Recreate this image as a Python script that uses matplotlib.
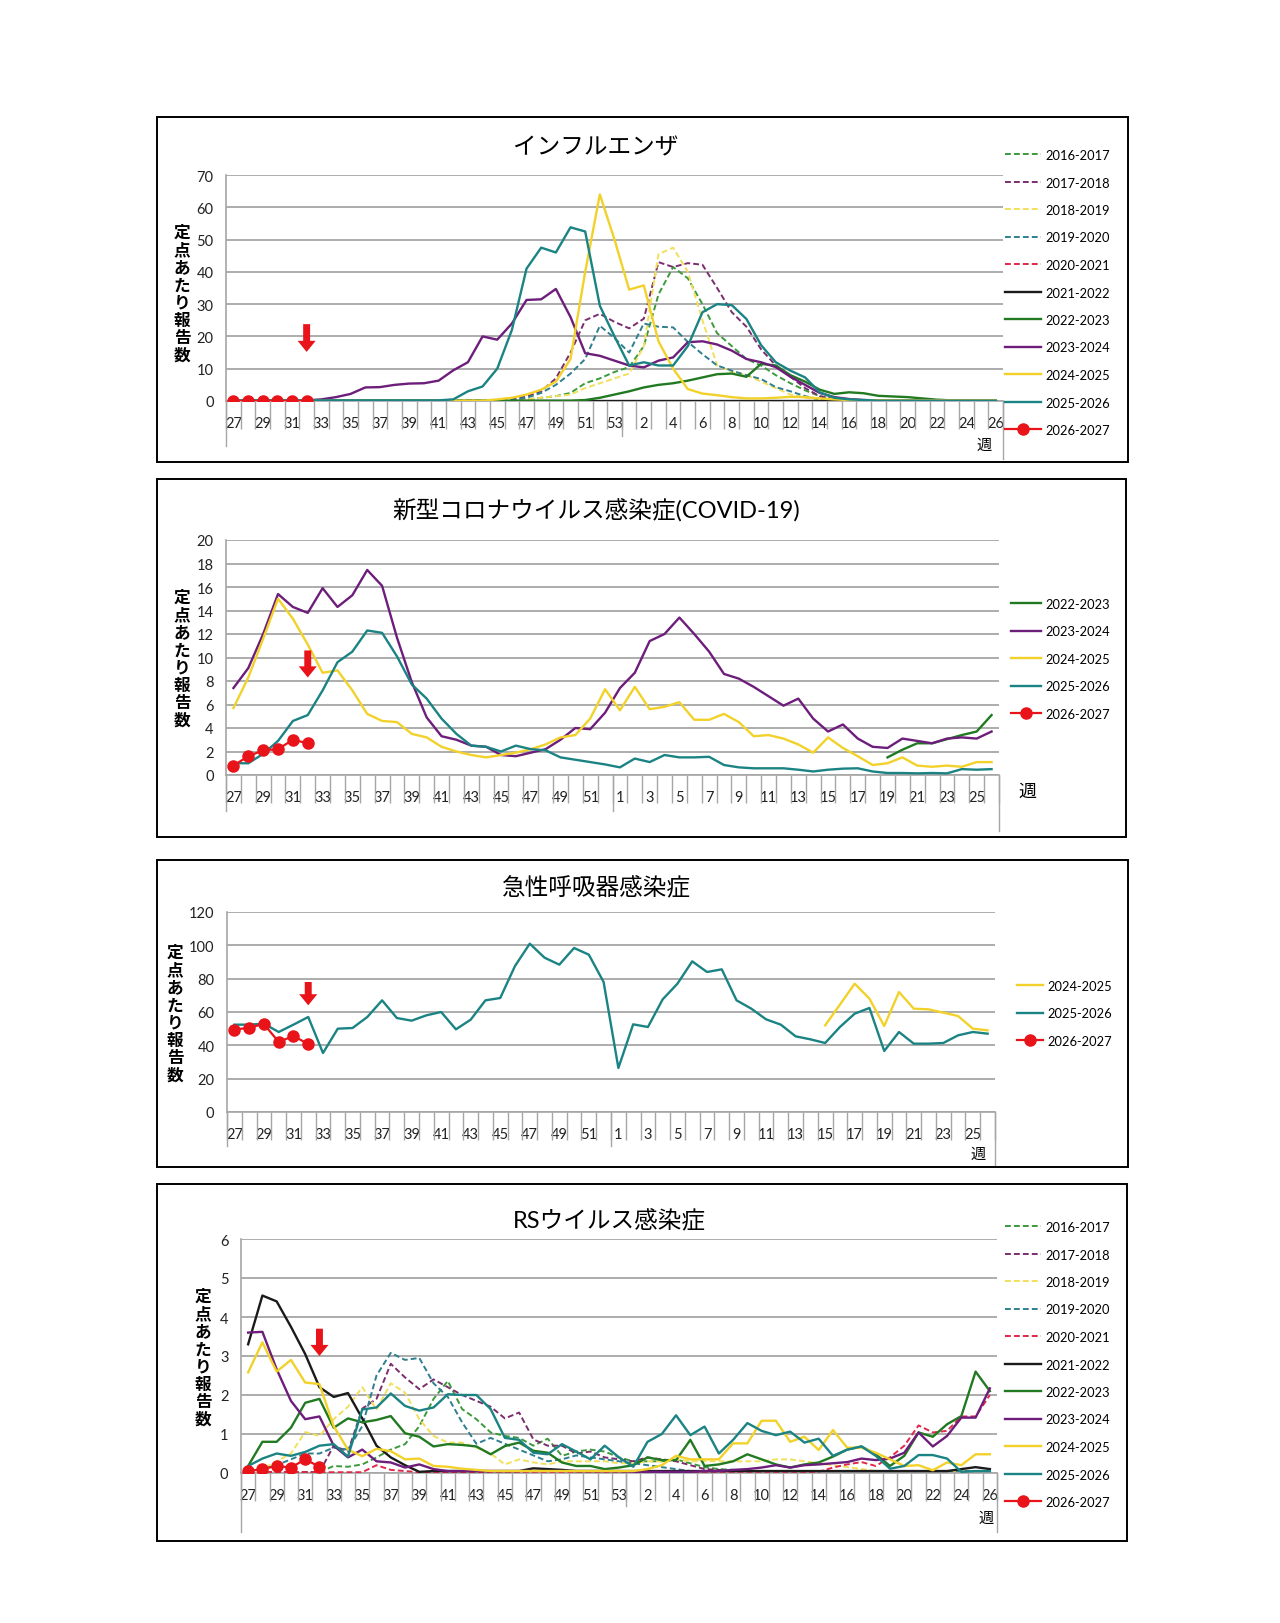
import numpy as np
import matplotlib
matplotlib.use("Agg")
import matplotlib.pyplot as plt
from matplotlib.lines import Line2D
from matplotlib.patches import Rectangle

plt.rcParams['font.family'] = ['Lato', 'Noto Sans CJK JP', 'DejaVu Sans']

# week axes
weeks_a = list(range(27, 54)) + list(range(1, 27))   # 53 weeks
weeks_b = list(range(27, 53)) + list(range(1, 27))   # 52 weeks

N = None

# ---------------- インフルエンザ ----------------
flu_1617 = [0.1, 0.1, 0.1, 0.1, 0.1, 0.1, 0.1, 0.1, 0.1, 0.1, 0.1, 0.1, 0.1, 0.1, 0.1, 0.1, 0.1, 0.1, 0.1,
            0.2, 0.5, 1.0, 1.5, 2.5, 5.5, 7.0, 9.0,
            10.5, 17.0, 33.0, 41.5, 38.0, 30.0, 21.0, 17.0, 13.0, 11.0, 8.0, 5.5, 3.3, 1.5, 0.6, 0.3, 0.2,
            0.1, 0.1, 0.1, 0.1, 0.1, 0.1, 0.1, 0.1, 0.1]
flu_1718 = [0.1, 0.1, 0.1, 0.1, 0.1, 0.1, 0.1, 0.1, 0.1, 0.1, 0.1, 0.1, 0.1, 0.1, 0.1, 0.1, 0.1, 0.1, 0.1,
            0.5, 1.5, 3.0, 7.0, 15.0, 25.0, 27.0, 24.5,
            22.5, 25.5, 43.0, 41.5, 42.7, 42.2, 35.0, 27.5, 23.0, 16.0, 11.0, 7.5, 4.0, 1.5, 0.5, 0.3, 0.2,
            0.1, 0.1, 0.1, 0.1, 0.1, 0.1, 0.1, 0.1, 0.1]
flu_1819 = [0.1, 0.1, 0.1, 0.1, 0.1, 0.1, 0.1, 0.1, 0.1, 0.1, 0.1, 0.1, 0.1, 0.1, 0.1, 0.1, 0.1, 0.1, 0.1, 0.1,
            0.5, 1.0, 1.5, 2.0, 4.0, 5.5, 7.0,
            8.5, 17.0, 45.5, 47.5, 40.0, 25.0, 11.0, 9.0, 8.0, 6.0, 4.0, 2.0, 1.0, 0.5, 0.3, 0.2,
            0.1, 0.1, 0.1, 0.1, 0.1, 0.1, 0.1, 0.1, 0.1, 0.1]
flu_1920 = [0.1, 0.1, 0.1, 0.1, 0.1, 0.1, 0.1, 0.1, 0.1, 0.1, 0.1, 0.1, 0.1, 0.1, 0.1, 0.1, 0.1, 0.1, 0.1,
            0.3, 1.0, 2.5, 5.0, 8.5, 13.0, 23.3, 19.5,
            15.0, 24.0, 23.0, 22.8, 18.3, 14.5, 11.0, 9.4, 8.0, 6.8, 4.3, 3.0, 1.5, 0.5, 0.2,
            0.1, 0.1, 0.1, 0.1, 0.1, 0.1, 0.1, 0.1, 0.1, 0.1, 0.1]
flu_2021 = [0.05, 0.05, 0.05, 0.05, 0.05, 0.05, 0.05, 0.05, 0.05, 0.05, 0.05, 0.05, 0.05, 0.05, 0.05, 0.05,
            0.05, 0.05, 0.05, 0.05, 0.05, 0.05, 0.05, 0.05, 0.05, 0.05, 0.05,
            0.05, 0.05, 0.05, 0.05, 0.05, 0.05, 0.05, 0.05, 0.05, 0.05, 0.05, 0.05, 0.05, 0.05, 0.05,
            0.05, 0.05, 0.05, 0.05, 0.05, 0.05, 0.05, 0.05, 0.05, 0.05, 0.05]
flu_2122 = [0.05, 0.05, 0.05, 0.05, 0.05, 0.05, 0.05, 0.05, 0.05, 0.05, 0.05, 0.05, 0.05, 0.05, 0.05, 0.05,
            0.05, 0.05, 0.05, 0.05, 0.05, 0.05, 0.05, 0.05, 0.05, 0.05, 0.05,
            0.05, 0.05, 0.05, 0.05, 0.05, 0.05, 0.05, 0.05, 0.05, 0.05, 0.05, 0.05, 0.05, 0.05, 0.05,
            0.05, 0.05, 0.05, 0.05, 0.05, 0.05, 0.05, 0.05, 0.05, 0.05, 0.05]
flu_2223 = [0.1, 0.1, 0.1, 0.1, 0.1, 0.1, 0.1, 0.1, 0.1, 0.1, 0.1, 0.1, 0.1, 0.1, 0.1, 0.1, 0.1, 0.1, 0.1, 0.1,
            0.1, 0.1, 0.1, 0.1, 0.3, 1.0, 2.0,
            3.0, 4.2, 5.0, 5.5, 6.3, 7.3, 8.3, 8.5, 7.5, 11.5, 11.0, 8.0, 6.0, 3.5, 2.2, 2.7, 2.4, 1.6,
            1.4, 1.2, 0.8, 0.4, 0.2, 0.1, 0.1, 0.1]
flu_2324 = [0.2, 0.2, 0.2, 0.2, 0.2, 0.2, 0.5, 1.2, 2.2, 4.2, 4.3, 5.0, 5.4, 5.5, 6.3, 9.5, 12.0, 20.0, 19.0,
            24.0, 31.3, 31.5, 34.7, 26.0, 14.8, 14.0, 12.5,
            11.0, 10.4, 12.5, 13.5, 18.2, 18.5, 17.5, 15.6, 13.0, 12.0, 10.5, 7.5, 5.0, 2.5, 1.2, 0.6, 0.3,
            0.2, 0.2, 0.2, 0.2, 0.2, 0.2, 0.2, 0.2, 0.2]
flu_2425 = [0.1, 0.1, 0.1, 0.1, 0.1, 0.1, 0.1, 0.1, 0.1, 0.1, 0.1, 0.1, 0.1, 0.1, 0.1, 0.1, 0.1, 0.1,
            0.5, 1.0, 2.0, 3.5, 6.0, 13.0, 40.0, 64.0, 50.0,
            34.5, 35.8, 18.5, 10.0, 3.7, 2.3, 1.8, 1.2, 0.8, 0.8, 1.0, 1.3, 1.2, 0.8, 0.5, 0.3,
            0.2, 0.2, 0.2, 0.2, 0.2, 0.2, 0.2, 0.2, 0.2, 0.2]
flu_2526 = [0.2, 0.2, 0.2, 0.2, 0.2, 0.2, 0.2, 0.2, 0.2, 0.2, 0.2, 0.2, 0.2, 0.2, 0.2,
            0.5, 3.0, 4.5, 10.0, 22.0, 41.0, 47.5, 46.0, 53.8, 52.5, 29.5, 20.0,
            11.0, 12.0, 11.0, 11.0, 17.0, 27.5, 30.0, 29.7, 25.4, 17.3, 12.0, 9.4, 7.3, 2.7, 1.0, 0.5, 0.3,
            0.1, 0.1, 0.1, 0.1, 0.1, 0.1, 0.1, 0.1, 0.1]
flu_2627 = [0, 0, 0, 0, 0, 0]

# ---------------- 新型コロナ ----------------
cov_2223 = [N] * 44 + [1.5, 2.15, 2.7, 2.7, 3.05, 3.4, 3.7, 5.1]
cov_2324 = [7.4, 9.1, 12.0, 15.4, 14.3, 13.8, 15.9, 14.3, 15.3, 17.45, 16.1, 11.7, 7.9, 4.9, 3.3, 3.0,
            2.5, 2.4, 1.7, 1.6, 1.9, 2.2, 3.0, 4.0, 3.9, 5.3,
            7.4, 8.7, 11.4, 12.0, 13.4, 12.0, 10.5, 8.6, 8.2, 7.5, 6.7, 5.9, 6.5, 4.8, 3.7, 4.3,
            3.1, 2.4, 2.3, 3.1, 2.9, 2.7, 3.1, 3.2, 3.1, 3.7]
cov_2425 = [5.7, 8.3, 11.6, 15.0, 13.3, 11.1, 8.7, 8.9, 7.2, 5.2, 4.6, 4.5, 3.5, 3.2, 2.4, 2.0,
            1.7, 1.5, 1.7, 1.9, 2.2, 2.6, 3.2, 3.4, 4.8, 7.3,
            5.5, 7.5, 5.6, 5.8, 6.2, 4.7, 4.7, 5.2, 4.5, 3.3, 3.4, 3.1, 2.6, 1.9, 3.2, 2.3,
            1.6, 0.85, 1.0, 1.5, 0.8, 0.7, 0.8, 0.7, 1.1, 1.1]
cov_2526 = [1.0, 1.0, 1.8, 2.9, 4.6, 5.1, 7.2, 9.6, 10.5, 12.3, 12.1, 10.1, 7.7, 6.5, 4.8, 3.5,
            2.5, 2.4, 2.0, 2.5, 2.2, 2.1, 1.5, 1.3, 1.1, 0.9,
            0.65, 1.4, 1.1, 1.7, 1.5, 1.5, 1.55, 0.85, 0.65, 0.57, 0.57, 0.57, 0.45, 0.3, 0.45, 0.54,
            0.57, 0.3, 0.17, 0.17, 0.14, 0.17, 0.14, 0.5, 0.45, 0.5]
cov_2627 = [0.8, 1.6, 2.1, 2.2, 3.0, 2.7]

# ---------------- 急性呼吸器感染症 ----------------
ari_2425 = [N] * 40 + [52.0, 64.4, 77.0, 68.0, 51.6, 72.0, 62.0, 61.6, 59.6, 57.6, 50.0, 49.0]
ari_2526 = [52.4, 52.4, 53.0, 48.0, 52.4, 57.0, 35.4, 50.0, 50.4, 57.0, 67.0, 56.4, 54.8, 58.0, 60.0,
            49.6, 55.4, 67.0, 68.4, 87.6, 101.0, 92.6, 88.4, 98.4, 94.4, 78.0,
            26.4, 52.6, 51.0, 67.6, 77.0, 90.4, 84.0, 85.6, 67.0, 62.0, 55.6, 52.4, 45.4, 43.6, 41.4,
            51.0, 59.0, 62.4, 36.6, 48.0, 41.0, 41.0, 41.4, 46.0, 48.0, 47.0]
ari_2627 = [49.4, 50.6, 52.8, 42.0, 45.6, 40.8]

# ---------------- RSウイルス ----------------
rs_1617 = [0.02, 0.02, 0.02, 0.02, 0.02, 0.02, 0.18, 0.16, 0.22, 0.4, 0.6, 0.74, 1.2, 1.9, 2.36, 1.64,
           1.38, 1.04, 0.95, 0.9, 0.7, 0.88, 0.44, 0.55, 0.6, 0.55, 0.4,
           0.3, 0.3, 0.3, 0.35, 0.25, 0.15, 0.1, 0.08, 0.05, 0.05, 0.05, 0.05, 0.05, 0.05, 0.05, 0.05,
           0.05, 0.05, 0.05, 0.05, 0.05, 0.05, 0.05, 0.05, 0.05, 0.05]
rs_1718 = [0.02, 0.02, 0.02, 0.02, 0.02, 0.02, 0.7, 0.55, 1.65, 1.9, 2.8, 2.45, 2.15, 2.4, 2.2, 2.0,
           1.85, 1.7, 1.4, 1.55, 0.86, 0.7, 0.7, 0.5, 0.55, 0.4, 0.35,
           0.3, 0.4, 0.35, 0.3, 0.2, 0.1, 0.08, 0.05, 0.05, 0.05, 0.05, 0.05, 0.05, 0.05, 0.05, 0.05,
           0.05, 0.05, 0.05, 0.05, 0.05, 0.05, 0.05, 0.05, 0.05, 0.05]
rs_1819 = [0.05, 0.1, 0.3, 0.5, 1.05, 0.95, 1.38, 1.7, 2.2, 1.63, 2.3, 2.06, 1.38, 0.95, 0.78, 0.78,
           0.65, 0.5, 0.22, 0.35, 0.27, 0.22, 0.3, 0.3, 0.3, 0.3, 0.25,
           0.25, 0.3, 0.3, 0.35, 0.3, 0.3, 0.3, 0.3, 0.3, 0.3, 0.35, 0.35, 0.3, 0.25, 0.2, 0.15,
           0.1, 0.05, 0.05, 0.05, 0.05, 0.05, 0.05, 0.05, 0.05, 0.05]
rs_1920 = [0.05, 0.1, 0.2, 0.35, 0.5, 0.5, 0.65, 0.6, 1.2, 2.5, 3.08, 2.9, 2.95, 2.3, 1.95, 1.3,
           0.75, 0.9, 0.75, 0.6, 0.45, 0.3, 0.35, 0.45, 0.4, 0.35, 0.3,
           0.25, 0.2, 0.15, 0.1, 0.05, 0.05, 0.05, 0.05, 0.05, 0.05, 0.05, 0.05, 0.05, 0.05, 0.05, 0.05,
           0.05, 0.05, 0.05, 0.05, 0.05, 0.05, 0.05, 0.05, 0.05, 0.05]
rs_2021 = [0.02, 0.02, 0.02, 0.02, 0.02, 0.02, 0.02, 0.02, 0.02, 0.2, 0.08, 0.05, 0.02, 0.02, 0.02, 0.02,
           0.02, 0.02, 0.02, 0.02, 0.02, 0.02, 0.02, 0.02, 0.02, 0.02, 0.02,
           0.03, 0.03, 0.03, 0.03, 0.03, 0.03, 0.03, 0.03, 0.03, 0.03, 0.03, 0.03, 0.03, 0.03, 0.14, 0.22,
           0.28, 0.18, 0.4, 0.7, 1.22, 1.04, 1.08, 1.45, 1.45, 2.0]
rs_2122 = [3.3, 4.55, 4.4, 3.75, 3.05, 2.2, 1.95, 2.05, 1.4, 0.7, 0.4, 0.2, 0.03, 0.05, 0.05, 0.05,
           0.05, 0.05, 0.05, 0.05, 0.12, 0.1, 0.08, 0.05, 0.05, 0.05, 0.05,
           0.05, 0.05, 0.05, 0.05, 0.05, 0.05, 0.05, 0.05, 0.05, 0.05, 0.05, 0.05, 0.05, 0.05, 0.05, 0.05,
           0.05, 0.05, 0.05, 0.05, 0.05, 0.05, 0.05, 0.1, 0.15, 0.1]
rs_2223 = [0.18, 0.8, 0.8, 1.16, 1.8, 1.9, 1.16, 1.4, 1.3, 1.36, 1.46, 1.02, 0.93, 0.68, 0.74, 0.72,
           0.68, 0.48, 0.69, 0.78, 0.57, 0.52, 0.27, 0.18, 0.18, 0.1, 0.14,
           0.2, 0.4, 0.33, 0.33, 0.85, 0.18, 0.22, 0.3, 0.48, 0.35, 0.22, 0.14, 0.22, 0.27, 0.42, 0.6,
           0.68, 0.48, 0.18, 0.44, 1.04, 0.93, 1.25, 1.46, 2.6, 2.1]
rs_2324 = [3.6, 3.62, 2.66, 1.85, 1.38, 1.45, 0.7, 0.4, 0.6, 0.3, 0.27, 0.14, 0.22, 0.1, 0.05, 0.05,
           0.05, 0.05, 0.05, 0.05, 0.05, 0.05, 0.05, 0.05, 0.05, 0.05, 0.05,
           0.03, 0.03, 0.03, 0.03, 0.03, 0.05, 0.05, 0.08, 0.1, 0.14, 0.2, 0.14, 0.2, 0.22, 0.25, 0.28,
           0.37, 0.33, 0.37, 0.52, 1.04, 0.68, 0.95, 1.42, 1.42, 2.17]
rs_2425 = [2.58, 3.35, 2.6, 2.9, 2.32, 2.28, 1.2, 0.6, 0.43, 0.62, 0.56, 0.35, 0.37, 0.18, 0.16, 0.11,
           0.08, 0.05, 0.05, 0.05, 0.05, 0.05, 0.05, 0.05, 0.05, 0.05, 0.05,
           0.05, 0.1, 0.2, 0.44, 0.35, 0.35, 0.35, 0.76, 0.76, 1.34, 1.34, 0.8, 0.93, 0.59, 1.1, 0.65,
           0.65, 0.52, 0.35, 0.18, 0.2, 0.07, 0.27, 0.2, 0.48, 0.48]
rs_2526 = [0.18, 0.37, 0.5, 0.44, 0.54, 0.7, 0.74, 0.42, 1.63, 1.68, 2.04, 1.72, 1.6, 1.68, 2.02, 2.0,
           2.0, 1.64, 0.9, 0.85, 0.52, 0.48, 0.74, 0.55, 0.35, 0.7, 0.4,
           0.16, 0.8, 1.0, 1.48, 0.97, 1.19, 0.5, 0.85, 1.28, 1.08, 0.97, 1.06, 0.78, 0.88, 0.44, 0.6,
           0.68, 0.44, 0.11, 0.18, 0.46, 0.46, 0.37, 0.03, 0.05, 0.05]
rs_2627 = [0.05, 0.1, 0.18, 0.14, 0.35, 0.16]

# season styles
RED = '#e8141a'
STYLE = {
    '2016-2017': ('#3c9a3c', '--'),
    '2017-2018': ('#7b2d6e', '--'),
    '2018-2019': ('#f2df5a', '--'),
    '2019-2020': ('#2f7f8f', '--'),
    '2020-2021': ('#e0284a', '--'),
    '2021-2022': ('#1a1a1a', '-'),
    '2022-2023': ('#217a21', '-'),
    '2023-2024': ('#6d1d7a', '-'),
    '2024-2025': ('#f2d22a', '-'),
    '2025-2026': ('#1b8383', '-'),
    '2026-2027': (RED, '-'),
}

W, H = 1280, 1624
fig = plt.figure(figsize=(W / 100, H / 100), dpi=100)
GRID = '#a6a6a6'


def add_ax(left, top, right, bottom):
    return fig.add_axes([left / W, 1 - bottom / H, (right - left) / W, (bottom - top) / H])


def series_line(ax, season, values):
    color, ls = STYLE[season]
    y = np.array([np.nan if v is None else v for v in values], dtype=float)
    x = np.arange(len(y))
    if season == '2026-2027':
        ax.plot(x, y, color=color, lw=1.6, marker='o', ms=8, zorder=5)
    elif ls == '--':
        ax.plot(x, y, color=color, lw=1.4, dashes=(3, 1.6), zorder=3)
    else:
        ax.plot(x, y, color=color, lw=1.7, zorder=4)


def legend_handle(season):
    color, ls = STYLE[season]
    if season == '2026-2027':
        return Line2D([], [], color=color, lw=1.6, marker='o', ms=8, label=season)
    if ls == '--':
        return Line2D([], [], color=color, lw=1.4, dashes=(3, 1.6), label=season)
    return Line2D([], [], color=color, lw=1.7, label=season)


def panel(box, area, weeks, ymax, ystep, title, title_xy, data, legend_xy, handle_len,
          ylabel_xy, week_xy, week_fs, arrow, long_ticks):
    # outer frame
    bx0, by0, bx1, by1 = box
    fig.patches.append(Rectangle((bx0 / W, 1 - by1 / H), (bx1 - bx0) / W, (by1 - by0) / H,
                                 transform=fig.transFigure, fill=False, ec='black', lw=1.4))
    ax = add_ax(*area)
    n = len(weeks)
    for season, vals in data:
        series_line(ax, season, vals)
    ax.set_xlim(-0.5, n - 0.5)
    ax.set_ylim(0, ymax)
    ax.set_yticks(np.arange(0, ymax + ystep / 2, ystep))
    ax.yaxis.grid(True, color=GRID, lw=1.3)
    ax.set_axisbelow(True)
    for s in ('top', 'right'):
        ax.spines[s].set_visible(False)
    for s in ('left', 'bottom'):
        ax.spines[s].set_color(GRID)
        ax.spines[s].set_linewidth(1.2)
    ax.tick_params(axis='y', length=0, pad=9, labelsize=10.5, labelcolor='#222222')
    ax.set_xticks(range(n))
    ax.set_xticklabels([str(w) if i % 2 == 0 else '' for i, w in enumerate(weeks)])
    ax.set_xticks(np.arange(-0.5, n, 1), minor=True)
    ax.tick_params(axis='x', which='major', length=0, pad=11, labelsize=10.5, labelcolor='#222222')
    ax.tick_params(axis='x', which='minor', length=20, width=1.0, color=GRID, direction='out')
    trans = ax.get_xaxis_transform()
    for xpos, depth in long_ticks:
        ax.plot([xpos, xpos], [0, -depth], transform=trans, clip_on=False, color=GRID, lw=1.0)
    # arrow
    ax_x, y_from, y_to = arrow
    ax.annotate('', xy=(ax_x, y_to), xytext=(ax_x, y_from),
                arrowprops=dict(facecolor=RED, edgecolor='none', width=5, headwidth=13,
                                headlength=8, shrink=0), zorder=6)
    # title
    fig.text(title_xy[0] / W, 1 - title_xy[1] / H, title, ha='center', va='center', fontsize=17)
    # vertical y label
    lx, ly0 = ylabel_xy
    for k, ch in enumerate('定点あたり報告数'):
        fig.text(lx / W, 1 - (ly0 + 17.5 * k) / H, ch, ha='center', va='center',
                 fontsize=12, fontweight='bold')
    fig.text(week_xy[0] / W, 1 - week_xy[1] / H, '週', ha='center', va='center', fontsize=week_fs)
    handles = [legend_handle(s) for s, _ in data]
    ax.legend(handles=handles, loc='upper left',
              bbox_to_anchor=(legend_xy[0] / W, 1 - legend_xy[1] / H),
              bbox_transform=fig.transFigure, frameon=False, fontsize=9.3, numpoints=1,
              handlelength=handle_len, handletextpad=0.35, labelspacing=1.2,
              borderpad=0, borderaxespad=0)
    return ax


flu_data = [('2016-2017', flu_1617), ('2017-2018', flu_1718), ('2018-2019', flu_1819),
            ('2019-2020', flu_1920), ('2020-2021', flu_2021), ('2021-2022', flu_2122),
            ('2022-2023', flu_2223), ('2023-2024', flu_2324), ('2024-2025', flu_2425),
            ('2025-2026', flu_2526), ('2026-2027', flu_2627)]
cov_data = [('2022-2023', cov_2223), ('2023-2024', cov_2324), ('2024-2025', cov_2425),
            ('2025-2026', cov_2526), ('2026-2027', cov_2627)]
ari_data = [('2024-2025', ari_2425), ('2025-2026', ari_2526), ('2026-2027', ari_2627)]
rs_data = [('2016-2017', rs_1617), ('2017-2018', rs_1718), ('2018-2019', rs_1819),
           ('2019-2020', rs_1920), ('2020-2021', rs_2021), ('2021-2022', rs_2122),
           ('2022-2023', rs_2223), ('2023-2024', rs_2324), ('2024-2025', rs_2425),
           ('2025-2026', rs_2526), ('2026-2027', rs_2627)]

panel(box=(157, 118, 1128, 463), area=(226, 176, 1003, 402), weeks=weeks_a, ymax=70, ystep=10,
      title='インフルエンザ', title_xy=(596, 148), data=flu_data, legend_xy=(1005, 150),
      handle_len=2.8, ylabel_xy=(182, 233), week_xy=(984, 446), week_fs=11,
      arrow=(5, 23.8, 15.2), long_ticks=[(-0.5, 0.2), (26.5, 0.155), (52.5, 0.255)])

panel(box=(157, 480, 1126, 838), area=(226, 541, 999, 776), weeks=weeks_b, ymax=20, ystep=2,
      title='新型コロナウイルス感染症(COVID-19)', title_xy=(596, 511), data=cov_data,
      legend_xy=(1011, 599), handle_len=2.3, ylabel_xy=(182, 598), week_xy=(1027, 792),
      week_fs=13, arrow=(5, 10.6, 8.3),
      long_ticks=[(-0.5, 0.153), (25.5, 0.153), (51.5, 0.238)])

panel(box=(157, 861, 1128, 1168), area=(227, 913, 995, 1113), weeks=weeks_b, ymax=120, ystep=20,
      title='急性呼吸器感染症', title_xy=(596, 888), data=ari_data, legend_xy=(1017, 981),
      handle_len=2.0, ylabel_xy=(175, 953), week_xy=(978, 1155), week_fs=11,
      arrow=(5, 78, 64), long_ticks=[(-0.5, 0.17), (25.5, 0.17), (51.5, 0.27)])

panel(box=(157, 1185, 1127, 1542), area=(241, 1240, 997, 1474), weeks=weeks_a, ymax=6, ystep=1,
      title='RSウイルス感染症', title_xy=(609, 1221), data=rs_data, legend_xy=(1005, 1222),
      handle_len=2.8, ylabel_xy=(203, 1297), week_xy=(986, 1519), week_fs=11,
      arrow=(5, 3.7, 3.0), long_ticks=[(-0.5, 0.25), (26.5, 0.143), (52.5, 0.25)])

fig.savefig('out.png', dpi=100)
